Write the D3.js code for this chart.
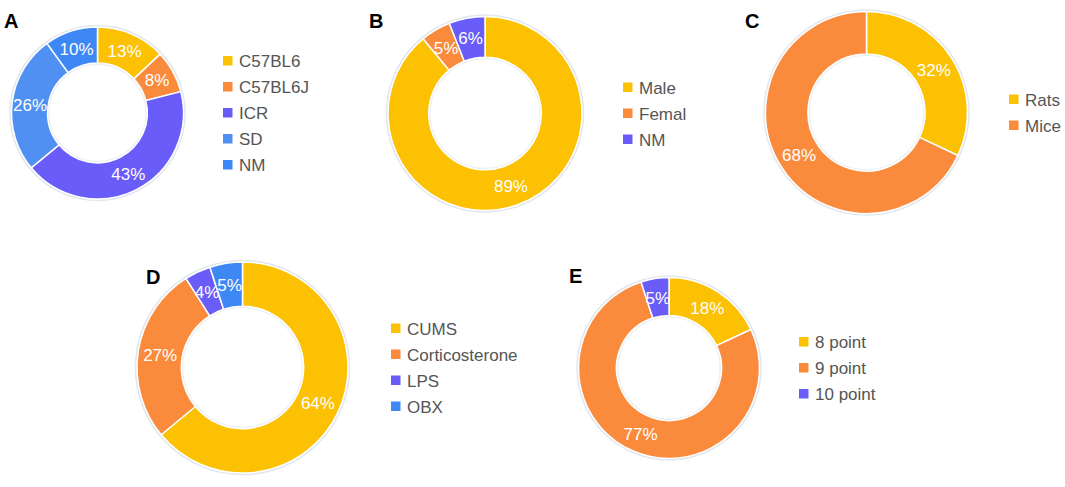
<!DOCTYPE html>
<meta charset="utf-8">
<body style="margin:0;background:#fff">
<script src="https://cdn.jsdelivr.net/npm/d3@7"></script>
<script>
// data, one set of arrays per panel
var catsA = ["C57BL6", "C57BL6J", "ICR", "SD", "NM"],
    valsA = [13, 8, 43, 26, 10];
var catsB = ["Male", "Femal", "NM"],
    valsB = [89, 5, 6];
var catsC = ["Rats", "Mice"],
    valsC = [32, 68];
var catsD = ["CUMS", "Corticosterone", "LPS", "OBX"],
    valsD = [64, 27, 4, 5];
var catsE = ["8 point", "9 point", "10 point"],
    valsE = [18, 77, 5];

var colA = ["#fbc102", "#fa8a3c", "#6a5cf8", "#4f90f2", "#3e88f6"],
    colB = ["#fbc102", "#fa8a3c", "#6a5cf8"],
    colD = ["#fbc102", "#fa8a3c", "#6a5cf8", "#3e88f6"];

// layout of each panel
var panels = [
  {id: "A", cats: catsA, vals: valsA, col: colA, cx: 97.5, cy: 113, r: 86, lx: 223, lt: [4, 28]},
  {id: "B", cats: catsB, vals: valsB, col: colB, cx: 485, cy: 113.5, r: 97, lx: 623, lt: [369, 28]},
  {id: "C", cats: catsC, vals: valsC, col: colB, cx: 866.5, cy: 112.5, r: 101, lx: 1009, lt: [745, 28]},
  {id: "D", cats: catsD, vals: valsD, col: colD, cx: 242.5, cy: 367.5, r: 105.5, lx: 391, lt: [146, 284]},
  {id: "E", cats: catsE, vals: valsE, col: colB, cx: 669, cy: 368, r: 90.5, lx: 799, lt: [569, 283]}
];

var svg = d3.select("body").append("svg")
    .attr("width", 1065)
    .attr("height", 487)
    .style("font-family", "Arial, 'Liberation Sans', sans-serif");

var pie = d3.pie().sort(null).value(function(d){ return d; });

panels.forEach(function(p){
  var inner = p.r * 0.58;
  var arc = d3.arc().innerRadius(inner).outerRadius(p.r);
  var g = svg.append("g").attr("transform", "translate(" + p.cx + "," + p.cy + ")");

  // faint halo around ring
  g.append("circle").attr("r", p.r + 1).attr("fill", "none")
    .attr("stroke", "#e2e7ee").attr("stroke-width", 2.5);
  g.append("circle").attr("r", inner - 1).attr("fill", "none")
    .attr("stroke", "#eceff3").attr("stroke-width", 2);

  var arcs = pie(p.vals);
  g.selectAll("path").data(arcs).enter().append("path")
    .attr("d", arc)
    .attr("fill", function(d, i){ return p.col[i]; })
    .attr("stroke", "#fff")
    .attr("stroke-width", 1.5);

  g.selectAll("text.pct").data(arcs).enter().append("text")
    .attr("class", "pct")
    .attr("transform", function(d){ return "translate(" + arc.centroid(d) + ")"; })
    .attr("text-anchor", "middle")
    .attr("dy", "0.36em")
    .attr("fill", "#fff")
    .style("font-size", "17px")
    .text(function(d){ return d.data + "%"; });

  // legend
  var n = p.cats.length, sp = 26;
  var lg = svg.append("g").attr("transform", "translate(" + p.lx + "," + (p.cy - (n - 1) * sp / 2) + ")");
  var item = lg.selectAll("g").data(p.cats).enter().append("g")
    .attr("transform", function(d, i){ return "translate(0," + (i * sp) + ")"; });
  item.append("rect").attr("x", 0).attr("y", -5).attr("width", 9.5).attr("height", 9.5)
    .attr("fill", function(d, i){ return p.col[i]; });
  item.append("text").attr("x", 16).attr("dy", "0.36em")
    .attr("fill", "#555")
    .style("font-size", "17px")
    .text(function(d){ return d; });

  svg.append("text").attr("x", p.lt[0]).attr("y", p.lt[1])
    .style("font-size", "20px").style("font-weight", "bold")
    .attr("fill", "#000")
    .text(p.id);
});
</script>
</body>
